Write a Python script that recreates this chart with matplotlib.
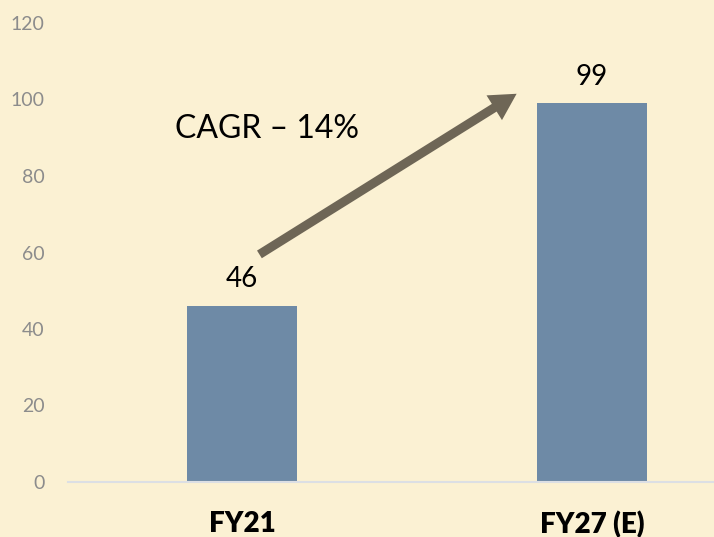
import matplotlib.pyplot as plt

# Data
categories = ['FY21', 'FY27 (E)']
values = [46, 99]
y_ticks = [0, 20, 40, 60, 80, 100, 120]
cagr_label = 'CAGR – 14%'
# arrow from near the FY21 label up to the FY27 bar
arrow_start = (0.05, 59.5)
arrow_end = (0.785, 101.5)

bg = '#fbf1d3'
bar_color = '#6e8aa6'

plt.rcParams['font.family'] = ['Lato', 'DejaVu Sans']

fig = plt.figure(figsize=(7.14, 5.37), dpi=100, facecolor=bg)
ax = fig.add_axes([68 / 714, 55 / 537, 646 / 714, 459 / 537])
ax.set_facecolor(bg)

x = list(range(len(categories)))
bars = ax.bar(x, values, width=0.314, color=bar_color)

# value labels above bars
for xi, v in zip(x, values):
    ax.annotate(str(v), (xi, v), xytext=(0, 13.5), textcoords='offset points',
                ha='center', va='baseline', fontsize=20, color='black')

ax.set_xlim(-0.497, 1.349)
ax.set_ylim(0, 120)
ax.set_yticks(y_ticks)
ax.set_xticks(x)
ax.set_xticklabels(categories, fontsize=20, fontweight='heavy', color='black')

ax.tick_params(axis='y', length=0, pad=17, labelsize=14, labelcolor='#8c8c8c')
ax.tick_params(axis='x', length=0, pad=21)

for s in ['top', 'right', 'left']:
    ax.spines[s].set_visible(False)
ax.spines['bottom'].set_color('#dcdfe4')
ax.spines['bottom'].set_linewidth(1.5)

# CAGR arrow + text
ax.annotate('', xy=arrow_end, xytext=arrow_start,
            arrowprops=dict(facecolor='#6e6656', edgecolor='none',
                            width=6.5, headwidth=21, headlength=19, shrink=0))
ax.text(-0.191, 89.9, cagr_label, ha='left', va='baseline', fontsize=23, color='black')

fig.savefig('out.png', dpi=100, facecolor=bg)
